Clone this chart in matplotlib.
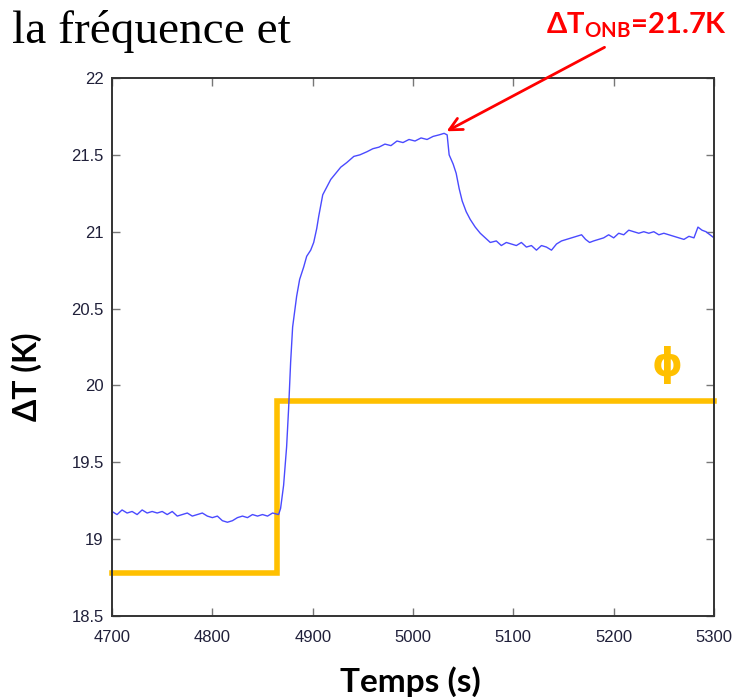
import matplotlib
matplotlib.use("Agg")
import matplotlib.pyplot as plt

# measured temperature difference (blue trace)
t = [4700, 4705, 4710, 4715, 4720, 4725, 4730, 4735, 4740, 4745, 4750, 4755,
     4760, 4765, 4770, 4775, 4780, 4785, 4790, 4795, 4800, 4805, 4810, 4815,
     4820, 4825, 4830, 4835, 4840, 4845, 4850, 4855, 4860, 4866, 4868, 4871,
     4874, 4876, 4878, 4880, 4884, 4887, 4891, 4894, 4898, 4901, 4904, 4906,
     4910, 4914, 4918, 4923, 4928, 4934, 4941, 4947, 4954, 4960, 4966, 4972,
     4978, 4984, 4990, 4996, 5002, 5008, 5014, 5020, 5026, 5031, 5034, 5036,
     5040, 5043, 5046, 5049, 5053, 5057, 5062, 5067, 5072, 5077, 5083, 5088,
     5093, 5098, 5103, 5108, 5113, 5118, 5123, 5128, 5133, 5138, 5143, 5148,
     5153, 5158, 5163, 5168, 5172, 5176, 5180, 5185, 5190, 5195, 5200, 5205,
     5210, 5215, 5220, 5225, 5230, 5235, 5240, 5245, 5250, 5255, 5260, 5265,
     5270, 5275, 5280, 5284, 5288, 5292, 5296, 5300]
dT = [19.18, 19.16, 19.19, 19.17, 19.18, 19.16, 19.19, 19.17, 19.18, 19.17, 19.18, 19.16,
      19.18, 19.15, 19.16, 19.17, 19.15, 19.16, 19.17, 19.15, 19.14, 19.15, 19.12, 19.11,
      19.12, 19.14, 19.15, 19.14, 19.16, 19.15, 19.16, 19.15, 19.17, 19.16, 19.20, 19.35,
      19.60, 19.85, 20.15, 20.38, 20.58, 20.69, 20.77, 20.84, 20.88, 20.93, 21.02, 21.10,
      21.24, 21.29, 21.34, 21.38, 21.42, 21.45, 21.49, 21.50, 21.52, 21.54, 21.55, 21.57,
      21.56, 21.59, 21.58, 21.60, 21.59, 21.61, 21.60, 21.62, 21.63, 21.64, 21.63, 21.50,
      21.44, 21.38, 21.28, 21.20, 21.13, 21.08, 21.03, 20.99, 20.96, 20.93, 20.94, 20.91,
      20.93, 20.92, 20.91, 20.93, 20.90, 20.91, 20.88, 20.91, 20.90, 20.88, 20.92, 20.94,
      20.95, 20.96, 20.97, 20.98, 20.95, 20.93, 20.94, 20.95, 20.96, 20.98, 20.96, 20.99,
      20.98, 21.01, 21.00, 20.99, 21.00, 20.99, 21.00, 20.98, 20.99, 20.98, 20.97, 20.96,
      20.95, 20.97, 20.96, 21.03, 21.01, 21.00, 20.98, 20.96]

# heat flux step (yellow), plotted on the same axis scale
phi_t = [4700, 4864, 5300]
phi = [18.78, 19.90, 19.90]

xticks = [4700, 4800, 4900, 5000, 5100, 5200, 5300]
yticks = [18.5, 19, 19.5, 20, 20.5, 21, 21.5, 22]
ytick_labels = ["18.5", "19", "19.5", "20", "20.5", "21", "21.5", "22"]

onb_t, onb_val = 5031, 21.645
gold = "#FFC000"

plt.rcParams["mathtext.fontset"] = "custom"
plt.rcParams["mathtext.rm"] = "Lato:bold"
plt.rcParams["mathtext.bf"] = "Lato:bold"
plt.rcParams["mathtext.it"] = "Lato:bold"

fig = plt.figure(figsize=(7.39, 6.97), dpi=100)
ax = fig.add_axes([0.1516, 0.1162, 0.8146, 0.7719])

ax.plot(phi_t, phi, drawstyle="steps-post", color=gold, lw=4, clip_on=False,
        solid_joinstyle="miter")
ax.plot(t, dT, color="#4a4aff", lw=1.0)

ax.set_xlim(4700, 5300)
ax.set_ylim(18.5, 22)
ax.set_xticks(xticks)
ax.set_xticklabels([str(v) for v in xticks])
ax.set_yticks(yticks)
ax.set_yticklabels(ytick_labels)
ax.tick_params(direction="in", length=6, width=1, top=True, right=True,
               labelsize=12, labelcolor="#20203a", color="#777777")
ax.tick_params(axis="x", pad=10)
ax.tick_params(axis="y", pad=6)
for lab in ax.get_xticklabels() + ax.get_yticklabels():
    lab.set_family("Liberation Sans")
for s in ax.spines.values():
    s.set_color("#333333")
    s.set_linewidth(1.4)

ax.set_xlabel("Temps (s)", family="Lato", weight="bold", fontsize=24)
ax.xaxis.set_label_coords(0.495, -0.093)
ax.set_ylabel("ΔT (K)", family=["Lato", "DejaVu Sans"], weight="bold",
              fontsize=23)
ax.yaxis.set_label_coords(-0.116, 0.444)

# phi label
ax.text(5253, 20.13, "ϕ", color=gold, fontsize=28, weight="bold",
        family=["DejaVu Sans"], ha="center", va="center")

# title fragment
fig.text(12 / 739, 1 - 43 / 697, "la fréquence et", family="Liberation Serif",
         fontsize=34, ha="left", va="baseline")

# ONB annotation
fig.text(546 / 739, 1 - 33 / 697, r"ΔT$_{\mathbf{ONB}}$=21.7K", color="red",
         family=["Lato", "DejaVu Sans"], weight="bold", fontsize=21,
         ha="left", va="baseline")
ax.annotate("", xy=(onb_t, onb_val), xycoords="data",
            xytext=(607 / 739, 1 - 46 / 697), textcoords="figure fraction",
            arrowprops=dict(arrowstyle="->,head_length=0.9,head_width=0.45",
                            color="red", lw=2))

fig.savefig("out.png", dpi=100)
